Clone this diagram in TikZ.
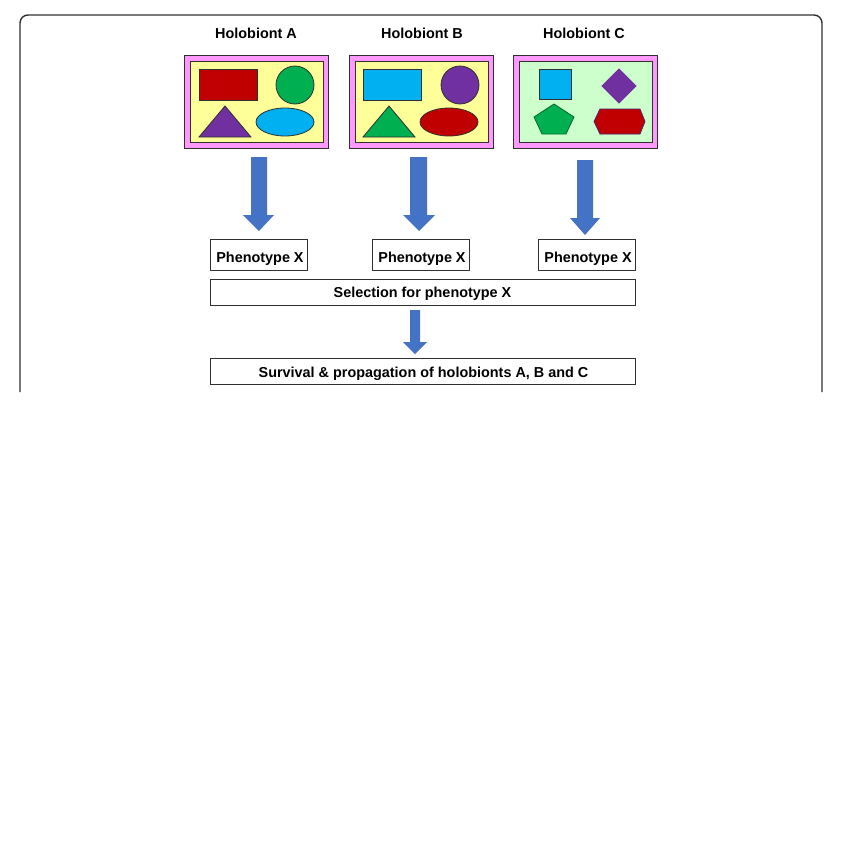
\documentclass[tikz,border=0pt]{standalone}
\usepackage{fontspec}
\setmainfont{Liberation Sans}
\definecolor{pinkc}{HTML}{FF99FF}
\definecolor{yellowc}{HTML}{FFFF99}
\definecolor{greenbg}{HTML}{CCFFCC}
\definecolor{redc}{HTML}{C00000}
\definecolor{greenc}{HTML}{00B050}
\definecolor{cyanc}{HTML}{00B0F0}
\definecolor{purplec}{HTML}{7030A0}
\definecolor{arrowc}{HTML}{4472C4}
\definecolor{edgec}{HTML}{303030}
\begin{document}
\begin{tikzpicture}[x=1pt,y=-1pt,
  lbl/.style={font=\fontsize{14.4}{17}\selectfont\bfseries, inner sep=0pt},
  txtbox/.style={draw=edgec, line width=0.9pt, fill=white, font=\fontsize{14.4}{17}\selectfont\bfseries, inner sep=0pt, text depth=0pt},
  outerbox/.style={draw=edgec, line width=0.8pt, fill=pinkc},
  shp/.style={draw=edgec, line width=0.8pt},
  blockarrow/.style={fill=arrowc, draw=none}
]
\useasboundingbox (0,0) rectangle (843,857);
\fill[white] (0,0) rectangle (843,857);

% frame (cut at bottom)
\draw[edgec, line width=1.4pt, rounded corners=8pt] (20,392) -- (20,15) -- (822,15) -- (822,392);

% titles
\node[lbl] (tA) at (256,33) {Holobiont A};
\node[lbl] (tB) at (422,33) {Holobiont B};
\node[lbl] (tC) at (584,33) {Holobiont C};

% Holobiont A
\draw[outerbox] (184,55) rectangle (328,148);
\draw[shp, fill=yellowc] (190,61) rectangle (323,142);
\draw[shp, fill=redc] (199,69) rectangle (257,100);
\draw[shp, fill=greenc] (295,85) circle [radius=19pt];
\draw[shp, fill=purplec] (199,137) -- (251,137) -- (225,106) -- cycle;
\draw[shp, fill=cyanc] (285,122) ellipse [x radius=29pt, y radius=14pt];

% Holobiont B
\draw[outerbox] (349,55) rectangle (493,148);
\draw[shp, fill=yellowc] (355,61) rectangle (488,142);
\draw[shp, fill=cyanc] (363,69) rectangle (421,100);
\draw[shp, fill=purplec] (460,85) circle [radius=19pt];
\draw[shp, fill=greenc] (363,137) -- (415,137) -- (389,106) -- cycle;
\draw[shp, fill=redc] (449,122) ellipse [x radius=29pt, y radius=14pt];

% Holobiont C
\draw[outerbox] (513,55) rectangle (657,148);
\draw[shp, fill=greenbg] (519,61) rectangle (652,142);
\draw[shp, fill=cyanc] (539,69) rectangle (571,99);
\draw[shp, draw=purplec, fill=purplec] (619,69) -- (636,86) -- (619,103) -- (602,86) -- cycle;
\draw[shp, draw=greenc!60!black, fill=greenc] (554,104) -- (574,117) -- (566,134) -- (542,134) -- (534,117) -- cycle;
\draw[shp, draw=purplec!70!black, fill=redc] (594,121.5) -- (600,109) -- (640,109) -- (645,121.5) -- (640,134) -- (600,134) -- cycle;

% block arrows
\fill[blockarrow] (251,157) -- (267,157) -- (267,215) -- (274,215) -- (259,231) -- (243,215) -- (251,215) -- cycle;
\fill[blockarrow] (410,157) -- (427,157) -- (427,215) -- (435,215) -- (419,231) -- (403,215) -- (410,215) -- cycle;
\fill[blockarrow] (577,160) -- (593,160) -- (593,218) -- (600,218) -- (585,235) -- (570,218) -- (577,218) -- cycle;
\fill[blockarrow] (410,310) -- (420,310) -- (420,342) -- (427,342) -- (415,354) -- (403,342) -- (410,342) -- cycle;

% boxes
\node[txtbox, text height=15pt, minimum width=97pt, minimum height=31pt] (pA) at (258.5,254.5) {\hspace{3pt}Phenotype X};
\node[txtbox, text height=15pt, minimum width=97pt, minimum height=31pt] (pB) at (420.5,254.5) {\hspace{3pt}Phenotype X};
\node[txtbox, text height=15pt, minimum width=97pt, minimum height=31pt] (pC) at (586.5,254.5) {\hspace{3pt}Phenotype X};
\node[txtbox, text height=10pt, minimum width=425pt, minimum height=26pt] (sel) at (422.5,292) {Selection for phenotype X};
\node[txtbox, text height=12pt, minimum width=425pt, minimum height=26pt] (surv) at (422.5,371) {\hspace{2pt}Survival \& propagation of holobionts A, B and C};
\end{tikzpicture}
\end{document}
